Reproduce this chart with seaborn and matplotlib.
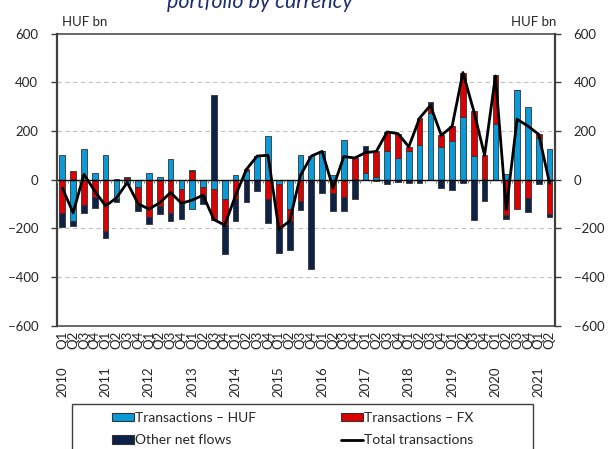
import numpy as np
import matplotlib
matplotlib.use("Agg")
import matplotlib.pyplot as plt
from matplotlib.patches import Patch, Rectangle
from matplotlib.lines import Line2D
import seaborn as sns

# quarterly data, 2010 Q1 - 2021 Q2 (HUF bn)
years = list(range(2010, 2022))
huf = [103, -170, 127, 26, 103, -78, -18, -30, 29, 12, 85, -37,
       -119, -32, -37, -78, 18, 34, 97, 178, -16, -119, 103, 97,
       116, 18, 164, 2, 27, 10, 118, 90, 119, 141, 273, 136,
       159, 256, 97, 2, 230, 25, 368, 300, 173, 127]
fx = [-137, 34, -105, -73, -211, 3, 8, -73, -153, -110, -136, -62,
      37, -32, -127, -107, -78, 8, 0, -78, -188, -51, -86, 0,
      0, -53, -70, 87, 84, 106, 78, 99, 16, 112, 28, 46,
      60, 184, 185, 98, 196, -147, -122, -74, 14, -141]
other = [-59, -22, -30, -42, -27, -14, 2, -26, -30, -33, -34, -63,
         3, -38, 348, -119, -92, -92, -47, -100, -96, -118, -40, -366,
         -55, -77, -59, -78, 27, -7, -18, -10, -14, -14, 20, -34,
         -44, -14, -167, -88, 4, -14, 0, -59, -18, -12]
total = [-34, -136, 22, -47, -108, -75, -12, -99, -121, -95, -53, -97,
         -84, -64, -164, -187, -65, 42, 97, 100, -204, -170, 18, 97,
         116, -34, 95, 89, 111, 116, 196, 189, 135, 253, 305, 182,
         219, 440, 282, 100, 426, -124, 248, 220, 186, -15]

qlabels = []
year_ticks = []
for i in range(len(huf)):
    q = i % 4 + 1
    qlabels.append(f"Q{q}")
    if q == 1:
        year_ticks.append((i, years[i // 4]))

c_huf = "#0A9AD7"
c_fx = "#DD0000"
c_oth = "#0E2247"
edge = "#333333"

sns.set_style("white")
plt.rcParams["font.family"] = ["Lato", "DejaVu Sans"]

fig = plt.figure(figsize=(6.09, 4.49), dpi=100)
ax = fig.add_axes([0.0934, 0.2746, 0.8179, 0.6506])

x = np.arange(len(huf))
pos_base = np.zeros(len(x))
neg_base = np.zeros(len(x))
for vals, col in [(huf, c_huf), (fx, c_fx), (other, c_oth)]:
    v = np.array(vals, dtype=float)
    base = np.where(v >= 0, pos_base, neg_base)
    ax.bar(x, v, bottom=base, width=0.53, color=col, edgecolor=edge,
           linewidth=0.6, zorder=3)
    pos_base += np.where(v > 0, v, 0)
    neg_base += np.where(v < 0, v, 0)

sns.lineplot(x=x, y=total, color="black", linewidth=2, ax=ax, zorder=5)

ax.axhline(0, color="black", lw=1, zorder=4)
ax.vlines(np.arange(-0.5, len(x)), -12, 0, color="#808080", lw=0.8, zorder=4)
for yv in (-400, -200, 200, 400):
    ax.axhline(yv, color="#c0c0c0", lw=0.8, ls=(0, (4, 3)), zorder=1)

ax.set_xlim(-0.5, len(x) - 0.5)
ax.set_ylim(-600, 600)
ax.set_yticks(range(-600, 601, 200))
ax.tick_params(axis="y", left=True, right=True, labelleft=True, labelright=True,
               direction="out", length=4.5, width=1, pad=9, labelsize=9.5,
               color="#404040")
ax.set_xticks(x)
ax.set_xticklabels(qlabels, rotation=90, fontsize=9.5)
ax.tick_params(axis="x", length=0, pad=3.5)
ax.set_xlabel("")
ax.set_ylabel("")
for i, yr in year_ticks:
    ax.annotate(str(yr), xy=(i, 0), xycoords=("data", "axes fraction"),
                xytext=(0, -29.5), textcoords="offset points", rotation=90,
                ha="center", va="top", fontsize=9.5)

for side, sp in ax.spines.items():
    sp.set_color("#404040")
    sp.set_linewidth(1.6 if side in ("left", "right") else 1.1)

# title only partly visible at the top edge, as in the source image
fig.text(260 / 609, 1 - 8 / 449, "portfolio by currency", ha="center",
         va="baseline", fontsize=15.5, style="italic", color="#1f2f6e")
fig.text(62 / 609, 1 - 22 / 449, "HUF bn", ha="left", va="center", fontsize=9.5)
fig.text(556 / 609, 1 - 22 / 449, "HUF bn", ha="right", va="center", fontsize=9.5)

leg_kw = dict(loc="upper left", frameon=False, borderpad=0, borderaxespad=0,
              handlelength=1.55, handleheight=0.55, handletextpad=0.1,
              labelspacing=0.75, fontsize=10)
fig.legend(handles=[Patch(fc=c_huf, ec=edge, lw=0.8, label="Transactions – HUF"),
                    Patch(fc=c_oth, ec=edge, lw=0.8, label="Other net flows")],
           bbox_to_anchor=(112 / 609, 1 - 412 / 449), **leg_kw)
fig.legend(handles=[Patch(fc=c_fx, ec=edge, lw=0.8, label="Transactions – FX"),
                    Line2D([], [], color="black", lw=2, label="Total transactions")],
           bbox_to_anchor=(341 / 609, 1 - 412 / 449), **leg_kw)
fig.add_artist(Rectangle((72 / 609, -0.05), (533 - 72) / 609, (1 - 404 / 449) + 0.05,
                         transform=fig.transFigure, fill=False, ec="#404040", lw=1))

fig.savefig("out.png", dpi=100)
